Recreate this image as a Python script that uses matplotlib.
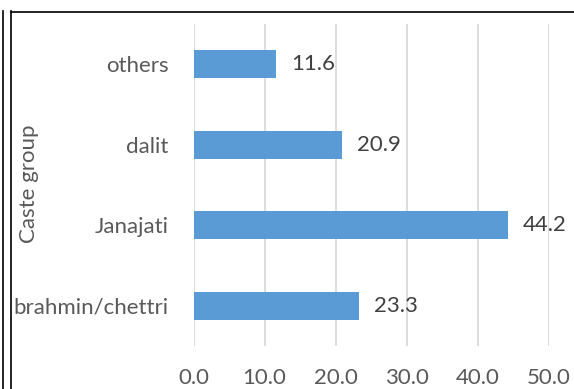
import matplotlib.pyplot as plt
from matplotlib.lines import Line2D

# caste share (%), bottom to top as drawn
castes = ["brahmin/chettri", "Janajati", "dalit", "others"]
shares = [23.3, 44.2, 20.9, 11.6]
xticks = [0, 10, 20, 30, 40, 50]

W, H = 574, 389
fig = plt.figure(figsize=(W / 100, H / 100), dpi=100)
plt.rcParams['font.family'] = ['Lato', 'DejaVu Sans']

ax = fig.add_axes([193.5 / W, 43 / H, 355.5 / W, 322 / H])
ypos = range(len(castes))
bars = ax.barh(ypos, shares, height=0.35, color='#5B9BD5', zorder=2)

for b, v in zip(bars, shares):
    ax.annotate("%.1f" % v, (b.get_width(), b.get_y() + b.get_height() / 2),
                xytext=(15, 0), textcoords='offset pixels', ha='left', va='center',
                fontsize=16, color='#404040')

ax.set_xlim(0, 50)
ax.set_ylim(-0.5, len(castes) - 0.5)
ax.set_xticks(xticks)
ax.set_xticklabels(["%.1f" % t for t in xticks])
ax.set_yticks(list(ypos))
ax.set_yticklabels(castes)
ax.tick_params(axis='both', length=0, labelsize=16, labelcolor='#595959')
ax.tick_params(axis='x', pad=16)
ax.tick_params(axis='y', pad=18)
ax.grid(axis='x', color='#D9D9D9', linewidth=1.3, zorder=0)
for s in ax.spines.values():
    s.set_visible(False)

fig.text(29 / W, 1 - 184 / H, "Caste group", rotation=90, ha='center', va='center',
         fontsize=16, color='#595959')

# frame lines around the chart
def px_line(x0, y0, x1, y1):
    fig.add_artist(Line2D([x0 / W, x1 / W], [1 - y0 / H, 1 - y1 / H],
                          transform=fig.transFigure, color='black', linewidth=1.2))

px_line(2.5, 11, 2.5, H)
px_line(10.5, 11, 10.5, H)
px_line(10.5, 11.5, W, 11.5)

fig.savefig("out.png", dpi=100)
